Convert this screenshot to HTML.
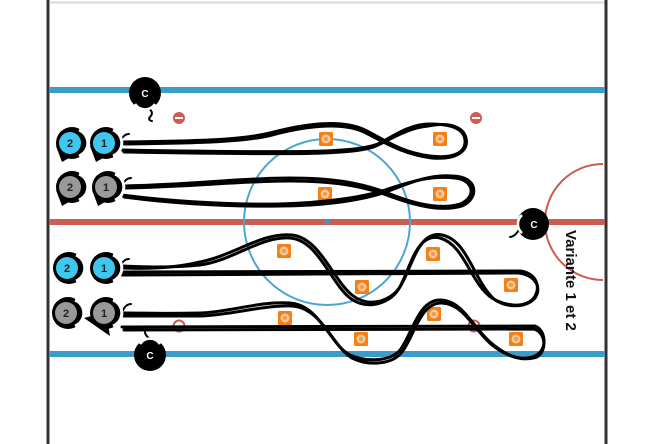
<!DOCTYPE html>
<html><head><meta charset="utf-8"><style>
html,body{margin:0;padding:0;background:#fff;}
svg{display:block;}
</style></head><body>
<svg width="655" height="444" viewBox="0 0 655 444" xmlns="http://www.w3.org/2000/svg">
<defs>
<g id="cone"><rect x="-7" y="-7" width="14" height="14" rx="1.5" fill="#f57f17"/><circle r="4.5" fill="#f7c89a"/><circle r="2" fill="#f39a4a"/></g>
</defs>
<line x1="50" y1="2.5" x2="606" y2="2.5" stroke="#d8d8d8" stroke-width="2"/>
<line x1="48" y1="0" x2="48" y2="444" stroke="#333" stroke-width="3"/>
<line x1="606" y1="0" x2="606" y2="444" stroke="#333" stroke-width="3"/>
<rect x="49" y="87" width="556" height="6" fill="#3b9ccc"/>
<rect x="49" y="351" width="556" height="6" fill="#3b9ccc"/>
<rect x="49" y="219" width="556" height="6" fill="#cc5c54"/>
<circle cx="327" cy="222" r="83" fill="none" stroke="#4aa6d0" stroke-width="2"/>
<circle cx="327" cy="222" r="2.5" fill="#3b9ccc"/>
<path d="M605,164 A58,58 0 0 0 605,280" fill="none" stroke="#cc5c54" stroke-width="2" transform="translate(-2,0)"/>
<g fill="#cc5c54"><circle cx="179" cy="118" r="6"/><circle cx="476" cy="118" r="6"/></g>
<g stroke="#fff" stroke-width="2"><line x1="175" y1="118" x2="183" y2="118"/><line x1="472" y1="118" x2="480" y2="118"/></g>
<circle cx="179" cy="326" r="5.5" fill="none" stroke="#cc5c54" stroke-width="2"/>
<circle cx="474" cy="326" r="5.5" fill="none" stroke="#cc5c54" stroke-width="2"/>
<use href="#cone" x="326" y="139"/><use href="#cone" x="440" y="139"/>
<use href="#cone" x="325" y="194"/><use href="#cone" x="440" y="194"/>
<use href="#cone" x="284" y="251"/><use href="#cone" x="362" y="287"/>
<use href="#cone" x="433" y="254"/><use href="#cone" x="511" y="285"/>
<use href="#cone" x="285" y="318"/><use href="#cone" x="361" y="339"/>
<use href="#cone" x="434" y="314"/><use href="#cone" x="516" y="339"/>
<g fill="none" stroke="#000" stroke-width="3" stroke-linecap="round">
<path d="M122,142 C200,141 240,140 270,133 C300,125 340,118 365,130 C385,140 400,152 430,156 C455,159 466,152 465,140 C464,128 450,124 430,124 C410,124 395,135 380,143 C360,153 300,153 122,150"/>
<path d="M124,144 C200,143 245,142 272,135 C302,127 340,121 364,132 C384,142 402,154 432,158 C458,160 469,150 466,138 C463,126 448,122 428,126 C408,128 393,138 378,145 C358,155 300,155 124,152"/>
<path d="M122,186 C190,185 240,178 290,178 C330,178 360,182 390,194 C415,204 440,210 460,204 C476,198 475,180 455,178 C430,175 410,182 385,190 C360,198 320,203 280,204 C220,205 160,200 122,195"/>
<path d="M124,188 C190,187 240,181 290,181 C330,181 362,185 392,197 C417,206 442,212 462,206 C480,198 478,176 452,176 C428,174 408,184 383,193 C358,201 320,206 280,206 C220,207 160,202 124,197"/>
<path d="M122,272 L520,271 C538,273 542,290 532,300 C522,308 505,306 492,298 C470,283 465,245 440,238 C415,232 410,272 398,290 C388,305 365,310 350,298 C330,282 318,240 290,238 C260,236 235,260 200,265 C170,268 140,267 122,266"/>
<path d="M122,268 C150,269 175,268 200,262 C235,255 262,232 292,235 C320,238 333,280 352,295 C368,308 390,302 400,287 C412,268 418,230 442,235 C468,240 474,282 495,300 C508,308 526,308 535,298 C542,288 536,275 518,273 L122,275"/>
<path d="M122,327 L535,326 C546,330 548,350 535,356 C520,362 505,355 490,342 C472,326 462,300 440,300 C418,300 412,335 400,350 C390,362 365,362 350,355 C330,345 320,305 290,303 C260,301 230,312 200,313 C160,314 140,313 122,313"/>
<path d="M124,316 C150,316 175,316 200,316 C232,315 262,305 292,306 C322,308 332,346 352,358 C368,366 392,365 402,352 C414,337 420,302 442,303 C464,304 474,330 492,345 C506,356 522,362 537,357 C548,350 545,332 534,329 L124,330"/>
</g>
<g fill="none" stroke="#000" stroke-width="2" stroke-linecap="round">
<path d="M140,104 C150,108 155,112 150,117 C148,119 150,121 152,121"/>
<path d="M522,226 C517,232 516,236 510,237"/>
<path d="M155,343 C150,339 145,336 145,332"/>
<path d="M120,143 C122,136 126,134 129,134"/><path d="M122,187 C124,180 128,178 131,178"/>
<path d="M120,268 C122,261 126,259 129,259"/><path d="M122,313 C124,306 128,304 131,304"/>
</g>
<g font-family="Liberation Sans, sans-serif" font-size="11" font-weight="bold" text-anchor="middle">
<path d="M56,146 L62,162 L76,154 Z" fill="#000"/><path d="M90,146 L96,162 L110,154 Z" fill="#000"/>
<path d="M56,190 L62,206 L76,198 Z" fill="#000"/><path d="M92,190 L98,206 L112,198 Z" fill="#000"/>
<path d="M84,318 L110,336 L106,312 Z" fill="#000"/>
<circle cx="72" cy="143" r="16" fill="#000"/><path d="M79,130 A14,14 0 0 1 79,156" fill="none" stroke="#fff" stroke-width="3"/><circle cx="70" cy="143" r="11" fill="#3fc8ef"/><text x="70" y="147" fill="#222">2</text>
<circle cx="106" cy="143" r="16" fill="#000"/><path d="M113,130 A14,14 0 0 1 113,156" fill="none" stroke="#fff" stroke-width="3"/><circle cx="104" cy="143" r="11" fill="#3fc8ef"/><text x="104" y="147" fill="#222">1</text>
<circle cx="72" cy="187" r="16" fill="#000"/><path d="M79,174 A14,14 0 0 1 79,200" fill="none" stroke="#fff" stroke-width="3"/><circle cx="70" cy="187" r="11" fill="#999"/><text x="70" y="191" fill="#222">2</text>
<circle cx="108" cy="187" r="16" fill="#000"/><path d="M115,174 A14,14 0 0 1 115,200" fill="none" stroke="#fff" stroke-width="3"/><circle cx="106" cy="187" r="11" fill="#999"/><text x="106" y="191" fill="#222">1</text>
<circle cx="69" cy="268" r="16" fill="#000"/><path d="M76,255 A14,14 0 0 1 76,281" fill="none" stroke="#fff" stroke-width="3"/><circle cx="67" cy="268" r="11" fill="#3fc8ef"/><text x="67" y="272" fill="#222">2</text>
<circle cx="106" cy="268" r="16" fill="#000"/><path d="M113,255 A14,14 0 0 1 113,281" fill="none" stroke="#fff" stroke-width="3"/><circle cx="104" cy="268" r="11" fill="#3fc8ef"/><text x="104" y="272" fill="#222">1</text>
<circle cx="68" cy="313" r="16" fill="#000"/><path d="M75,300 A14,14 0 0 1 75,326" fill="none" stroke="#fff" stroke-width="3"/><circle cx="66" cy="313" r="11" fill="#999"/><text x="66" y="317" fill="#222">2</text>
<circle cx="106" cy="313" r="16" fill="#000"/><path d="M113,300 A14,14 0 0 1 113,326" fill="none" stroke="#fff" stroke-width="3"/><circle cx="104" cy="313" r="11" fill="#999"/><text x="104" y="317" fill="#222">1</text>
<circle cx="145" cy="93" r="16" fill="#000"/><path d="M135,104 A12,12 0 0 0 155,104" fill="none" stroke="#fff" stroke-width="2.5"/><text x="145" y="97" fill="#fff" font-size="10">C</text>
<circle cx="533" cy="224" r="16" fill="#000"/><path d="M522,215 A12,12 0 0 0 522,233" fill="none" stroke="#fff" stroke-width="2.5"/><text x="534" y="228" fill="#fff" font-size="10">C</text>
<circle cx="150" cy="355" r="16" fill="#000"/><path d="M140,344 A12,12 0 0 1 160,344" fill="none" stroke="#fff" stroke-width="2.5"/><text x="150" y="359" fill="#fff" font-size="10">C</text>
</g>
<text x="0" y="0" transform="translate(566,230) rotate(90)" font-family="Liberation Sans, sans-serif" font-size="15" font-weight="bold" fill="#111">Variante 1 et 2</text>
</svg>
</body></html>
